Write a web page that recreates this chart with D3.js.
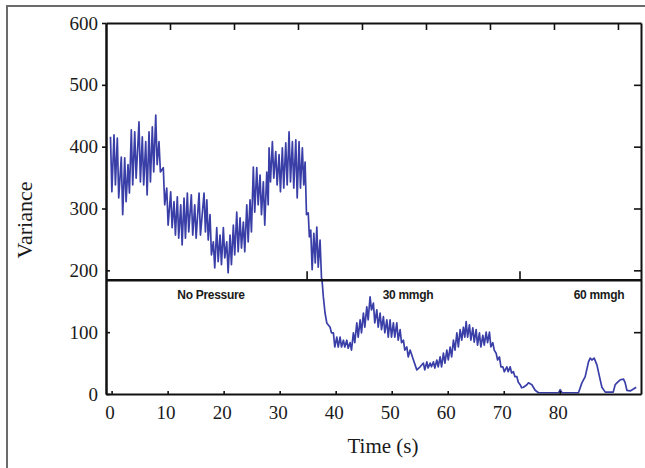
<!DOCTYPE html>
<html>
<head>
<meta charset="utf-8">
<script src="https://cdn.jsdelivr.net/npm/d3@7/dist/d3.min.js"></script>
<style>
  body { margin: 0; background: #fff; }
  svg { display: block; }
</style>
</head>
<body>
<div id="chart"></div>
<script>
// readings taken off the trace, time in seconds
var timeSec = [
  -0.2, 0.05, 0.43, 0.68, 1.02, 1.27, 1.73, 1.98, 2.34, 2.59, 2.93, 3.18, 3.52, 3.77,
  4.13, 4.38, 4.89, 5.14, 5.48, 5.73, 6.09, 6.34, 6.68, 6.93, 7.27, 7.52, 7.88, 8.13,
  8.46, 8.71, 9.23, 9.48, 9.84, 10.09, 10.55, 10.8, 11.14, 11.39, 11.73, 11.98, 12.34, 12.59,
  12.93, 13.18, 13.52, 13.77, 14.23, 14.48, 14.84, 15.09, 15.61, 15.86, 16.5, 16.75,
  17.0, 17.25, 17.57, 17.82, 18.16, 18.41, 18.77, 19.02, 19.36, 19.61, 19.95, 20.2,
  20.55, 20.8, 21.14, 21.39, 21.73, 21.98, 22.34, 22.59, 22.93, 23.18, 23.52, 23.77,
  24.13, 24.38, 24.71, 24.96, 25.3, 25.55, 25.91, 26.16, 26.5, 26.75, 27.09, 27.34,
  27.7, 27.95, 28.11, 28.36, 28.7, 28.95, 29.3, 29.55, 29.89, 30.14, 30.48, 30.73,
  31.09, 31.34, 31.68, 31.93, 32.27, 32.52, 32.88, 33.13, 33.46, 33.71, 34.05, 34.3,
  34.54, 34.79, 35.1, 35.3, 35.55, 35.8, 36.1, 36.35, 36.63, 36.88, 37.21, 37.46,
  37.6, 37.8, 38.1, 38.41, 39.0, 39.25, 39.59, 39.84, 40.2, 40.45, 40.79, 41.04,
  41.38, 41.63, 41.98, 42.23, 42.57, 42.82, 43.16, 43.41, 43.77, 44.02, 44.36, 44.61,
  44.95, 45.2, 45.55, 45.8, 46.14, 46.39, 46.73, 46.98, 47.34, 47.59, 47.93, 48.18,
  48.52, 48.77, 49.13, 49.38, 49.71, 49.96, 50.3, 50.55, 50.91, 51.16, 51.5, 51.75,
  52.09, 52.34, 52.7, 52.95, 53.29, 53.88, 54.48, 55.07, 55.66, 55.9, 56.27, 56.5,
  56.86, 57.1, 57.45, 57.7, 58.05, 58.3, 58.64, 58.9, 59.23, 59.5, 59.84, 60.1,
  60.43, 60.7, 61.02, 61.3, 61.63, 61.9, 62.21, 62.5, 62.8, 63.05, 63.29, 63.55,
  63.88, 64.13, 64.48, 64.73, 65.07, 65.32, 65.66, 65.91, 66.27, 66.52, 66.86, 67.11,
  67.45, 67.7, 68.05, 68.3, 68.64, 68.9, 69.23, 69.5, 69.84, 70.1, 70.55, 70.8,
  71.14, 71.4, 71.73, 72.0, 72.34, 72.6, 72.93, 73.2, 73.52, 74.13, 74.41, 75.02,
  75.61, 76.2, 77.09, 79.8, 80.07, 80.4, 81.27, 83.34, 83.95, 84.54, 85.13, 85.43,
  85.73, 86.14, 86.63, 87.09, 87.52, 88.11, 89.0, 89.54, 89.89, 90.2, 90.79, 91.38,
  91.68, 91.98, 92.57, 93.16, 93.64
];

var variance = [
  416, 327, 419, 338, 414, 317, 383, 290, 382, 311, 371, 325, 427, 338,
  424, 349, 440, 343, 416, 338, 408, 322, 424, 343, 432, 359, 451, 371,
  408, 359, 366, 306, 333, 273, 327, 269, 311, 257, 319, 252, 306, 241,
  317, 252, 325, 262, 322, 257, 306, 252, 325, 257, 325, 262,
  314, 249, 290, 225, 246, 204, 269, 214, 257, 209, 269, 220,
  246, 196, 257, 209, 273, 225, 294, 230, 285, 236, 278, 230,
  306, 246, 314, 262, 367, 294, 366, 306, 354, 290, 343, 273,
  359, 306, 398, 343, 408, 349, 392, 338, 387, 327, 398, 333,
  406, 338, 424, 343, 408, 333, 411, 317, 408, 333, 398, 338,
  375, 290, 293, 254, 265, 201, 260, 212, 270, 205, 249, 189,
  180, 157, 131, 115, 108, 99, 99, 76, 92, 76, 92, 76,
  87, 76, 87, 74, 83, 71, 99, 83, 115, 92, 120, 99,
  131, 108, 141, 120, 157, 136, 147, 115, 136, 108, 131, 104,
  125, 99, 120, 92, 120, 92, 115, 92, 115, 87, 104, 83,
  87, 71, 76, 60, 71, 55, 39, 44, 50, 39, 52, 42,
  50, 44, 52, 42, 55, 44, 60, 44, 66, 50, 71, 55,
  76, 60, 87, 71, 99, 76, 104, 87, 108, 92, 117, 92,
  112, 87, 107, 84, 104, 79, 99, 76, 95, 79, 100, 83,
  100, 76, 83, 71, 66, 55, 60, 44, 44, 36, 44, 36,
  44, 34, 36, 28, 28, 19, 15, 10, 11, 15, 18, 15,
  6, 2, 2, 2, 7, 2, 2, 2, 18, 28, 52, 58,
  55, 58, 47, 28, 11, 3, 3, 3, 15, 18, 23, 24,
  18, 6, 5, 8, 11
];

var xTickValues = [0, 10, 20, 30, 40, 50, 60, 70, 80];
var yTickValues = [0, 100, 200, 300, 400, 500, 600];
var dividerValue = 184;
var dividerTicks = [34.9, 72.9];
var phaseLabels = ['No Pressure', '30 mmgh', '60 mmgh'];
var phaseTimes = [17.75, 52.9, 87];

var width = 645, height = 468;
var plot = { left: 106, right: 641, top: 23, bottom: 394 };

var svg = d3.select('#chart')
  .append('svg')
  .attr('width', width)
  .attr('height', height);

// figure frame (top and left edges only, the rest is cropped)
svg.append('path')
  .attr('d', 'M7,468V6H645')
  .attr('fill', 'none')
  .attr('stroke', '#6b6b6b')
  .attr('stroke-width', 2);

var x = d3.scaleLinear().domain([-1, 94.5]).range([plot.left, plot.right]);
var y = d3.scaleLinear().domain([0, 600]).range([plot.bottom, plot.top]);
// the upper panel was pasted from a plot with a different time grid
var xTop = d3.scaleLinear().domain([0, 83.6]).range([plot.left, plot.right]);

var serif = '"Liberation Serif", "Times New Roman", serif';

var data = timeSec.map(function(t, i) { return { t: t, v: variance[i] }; });

var valueline = d3.line()
  .x(function(d) { return x(d.t); })
  .y(function(d) { return y(d.v); });

svg.append('path')
  .datum(data)
  .attr('d', valueline)
  .attr('fill', 'none')
  .attr('stroke', '#3a3fa8')
  .attr('stroke-width', 1.7)
  .attr('stroke-linejoin', 'round');

// axes
var bottomAxis = svg.append('g')
  .attr('transform', 'translate(0,' + plot.bottom + ')')
  .call(d3.axisBottom(x).tickValues(xTickValues).tickSize(-3).tickSizeOuter(0).tickPadding(12));

var leftAxisUpper = svg.append('g')
  .attr('transform', 'translate(' + plot.left + ',0)')
  .call(d3.axisLeft(y).tickValues([300, 400, 500, 600]).tickSize(4).tickSizeOuter(0).tickPadding(4));

var leftAxisLower = svg.append('g')
  .attr('transform', 'translate(' + plot.left + ',0)')
  .call(d3.axisLeft(y).tickValues([0, 100, 200]).tickSize(-4).tickSizeOuter(0).tickPadding(8));

var rightAxis = svg.append('g')
  .attr('transform', 'translate(' + plot.right + ',0)')
  .call(d3.axisRight(y).tickValues([100, 200, 300, 400, 500]).tickSize(-7).tickSizeOuter(0).tickFormat(''));

var topAxis = svg.append('g')
  .attr('transform', 'translate(0,' + plot.top + ')')
  .call(d3.axisTop(xTop).tickValues([10, 20, 30, 40, 50, 60, 70, 80]).tickSize(-7).tickSizeOuter(0).tickFormat(''));

svg.selectAll('.domain')
  .attr('stroke', '#111')
  .attr('stroke-width', 2);
svg.selectAll('.tick line')
  .attr('stroke', '#111')
  .attr('stroke-width', 1.6);
svg.selectAll('.tick text')
  .attr('fill', '#1a1a1a')
  .style('font-family', serif)
  .style('font-size', '19px');
bottomAxis.selectAll('.tick text').attr('dx', -2);

// divider between the panels
svg.append('line')
  .attr('x1', plot.left).attr('x2', plot.right)
  .attr('y1', y(dividerValue)).attr('y2', y(dividerValue))
  .attr('stroke', '#111')
  .attr('stroke-width', 2.4);

svg.selectAll('.divider-tick')
  .data(dividerTicks)
  .enter().append('line')
  .attr('x1', function(d) { return x(d); })
  .attr('x2', function(d) { return x(d); })
  .attr('y1', y(dividerValue))
  .attr('y2', y(dividerValue) - 9)
  .attr('stroke', '#111')
  .attr('stroke-width', 1.6);

svg.selectAll('.phase')
  .data(phaseLabels)
  .enter().append('text')
  .attr('x', function(d, i) { return x(phaseTimes[i]); })
  .attr('y', y(dividerValue) + 19)
  .attr('text-anchor', 'middle')
  .style('font-family', '"Liberation Sans Narrow", "Liberation Sans", Arial, sans-serif')
  .style('font-weight', 'bold')
  .style('font-size', '12px')
  .style('letter-spacing', '-0.3px')
  .attr('fill', '#1a1a1a')
  .text(function(d) { return d; });

// axis titles
svg.append('text')
  .attr('transform', 'translate(32,220) rotate(-90)')
  .attr('text-anchor', 'middle')
  .style('font-family', serif)
  .style('font-size', '22px')
  .attr('fill', '#1a1a1a')
  .text('Variance');

svg.append('text')
  .attr('x', 383)
  .attr('y', 453)
  .attr('text-anchor', 'middle')
  .style('font-family', serif)
  .style('font-size', '21px')
  .attr('fill', '#1a1a1a')
  .text('Time (s)');
</script>
</body>
</html>
